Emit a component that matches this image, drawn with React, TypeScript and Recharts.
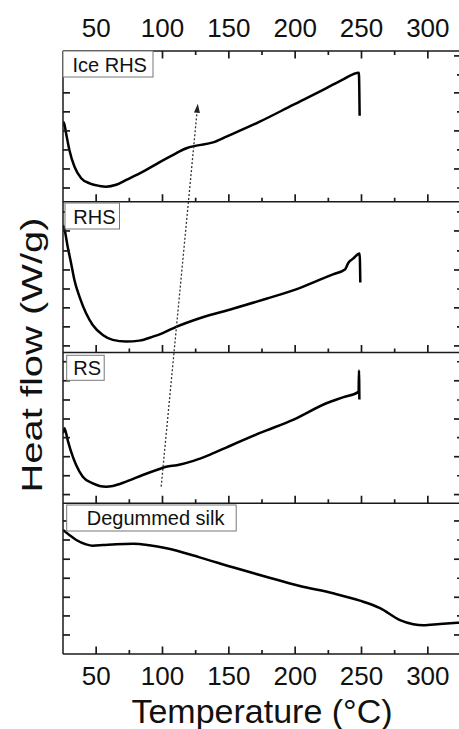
import React from 'react';
import { LineChart, Line, XAxis, YAxis, ReferenceLine } from 'recharts';

const FONT = '"Liberation Sans", Arial, Helvetica, sans-serif';

// x-axis (Temperature, °C)
const X_TICKS = [50, 75, 100, 125, 150, 175, 200, 225, 250, 275, 300];
const X_DOMAIN: [number, number] = [25, 325];

// panels, top to bottom; each panel spans 8 units of the stacked y scale
const PANEL_NAMES = ['Ice RHS', 'RHS', 'RS', 'Degummed silk'];
const PANEL_OFFSETS = [24, 16, 8, 0];
const PANEL_BOUNDARIES = [8, 16, 24];

// Ice RHS
const iceRhsT = [25, 25.6, 27.3, 29.8, 33.6, 38.7, 45, 52.5, 57.5, 65.1, 72.7, 85.3, 97.9, 110.5, 118, 125.6, 138.1, 148.2, 173.3, 198.4, 223.6, 236.2, 248, 248.6];
const iceRhsV = [4.0, 4.22, 3.64, 2.75, 1.87, 1.25, 0.98, 0.84, 0.8, 0.9, 1.16, 1.6, 2.1, 2.58, 2.84, 2.98, 3.15, 3.46, 4.25, 5.14, 6.03, 6.5, 6.85, 4.56];

// RHS
const rhsT = [25, 26.1, 28.5, 31.1, 33.6, 37.4, 42.4, 47.4, 55, 62.5, 72.6, 82.6, 92.7, 100.2, 110.3, 128, 153, 178.2, 203.3, 228.5, 237.5, 240, 244, 248.6, 249.1];
const rhsV = [6.75, 6.55, 5.62, 4.74, 3.85, 2.97, 2.08, 1.46, 0.93, 0.67, 0.58, 0.63, 0.84, 1.03, 1.36, 1.82, 2.32, 2.85, 3.42, 4.15, 4.4, 4.75, 5.0, 5.25, 3.72];

// RS
const rsT = [25, 26.1, 28.5, 31.1, 34.9, 39.9, 47.4, 57.5, 62.5, 72.6, 85.1, 97.7, 102.8, 110.8, 123.3, 135.9, 148.5, 173.6, 198.8, 224, 236.5, 247.8, 248.1, 248.4];
const rsV = [3.71, 3.98, 3.36, 2.74, 2.03, 1.41, 1.06, 0.88, 0.92, 1.15, 1.5, 1.82, 1.94, 2.02, 2.25, 2.58, 2.97, 3.73, 4.44, 5.32, 5.63, 5.91, 7.04, 5.5];

// Degummed silk
const silkT = [25, 30, 35, 42.4, 47.4, 55, 65, 78, 90, 103, 128, 153, 178, 203.5, 228.6, 248.8, 264, 279, 289, 296.6, 309, 325];
const silkV = [6.58, 6.3, 6.05, 5.82, 5.75, 5.78, 5.83, 5.85, 5.77, 5.61, 5.13, 4.6, 4.1, 3.61, 3.22, 2.83, 2.43, 1.8, 1.58, 1.52, 1.59, 1.67];

// y ticks (stacked units) per panel
const Y_TICKS_P1 = [24.73, 25.74, 26.75, 27.76, 28.77, 29.78, 30.73, 31.74];
const Y_TICKS_P2 = [16.35, 17.36, 18.37, 19.37, 20.38, 21.39, 22.45, 23.46];
const Y_TICKS_P3 = [8.46, 9.46, 10.47, 11.48, 12.47, 13.48, 14.5, 15.51];
const Y_TICKS_P4 = [1.01, 2.02, 3.01, 4.02, 5.03, 6.05, 7.06];
const Y_MAJOR_RIGHT = [25.74, 27.76, 29.78, 31.74, 16.35, 18.37, 20.38, 22.45, 8.46, 10.47, 12.47, 14.5, 1.01, 3.01, 5.03, 7.06];

// dotted arrow (from RS panel to Ice RHS panel), stacked units
const ARROW_FROM = { t: 99, v: 8.88 };
const ARROW_TO = { t: 126.6, v: 29.2 };

const SERIES_T = [iceRhsT, rhsT, rsT, silkT];
const SERIES_V = [iceRhsV, rhsV, rsV, silkV];
const seriesData = SERIES_T.map((ts, i) => ts.map((t, j) => ({ t, v: SERIES_V[i][j] + PANEL_OFFSETS[i] })));
const Y_TICKS = [...Y_TICKS_P4, ...Y_TICKS_P3, ...Y_TICKS_P2, ...Y_TICKS_P1];

// layout
const CHART_W = 471;
const CHART_H = 729;
const LEFT_W = 63;
const RIGHT_W = 10;
const TOP_H = 51;
const BOTTOM_H = 75;
const PLOT_W = CHART_W - LEFT_W - RIGHT_W;
const PANEL_H = (CHART_H - TOP_H - BOTTOM_H) / PANEL_NAMES.length;

const FRAME = '#1a1a1a';
const TICK_W = 1.7;

const makeXTick = (side: 'top' | 'bottom') => (props: any) => {
  const { x, y, payload } = props;
  const val = payload.value;
  const major = val % 50 === 0;
  const len = major ? 7.5 : 4;
  const dir = side === 'top' ? 1 : -1;
  return (
    <g>
      <line x1={x} y1={y} x2={x} y2={y + dir * len} stroke={FRAME} strokeWidth={TICK_W} />
      {side === 'bottom' &&
        PANEL_BOUNDARIES.map((_, k) => (
          <line
            key={k}
            x1={x}
            y1={y - (k + 1) * PANEL_H}
            x2={x}
            y2={y - (k + 1) * PANEL_H - len}
            stroke={FRAME}
            strokeWidth={TICK_W}
          />
        ))}
      {major && (
        <text
          x={x}
          y={side === 'top' ? y - 14.5 : y + 31}
          textAnchor="middle"
          fontSize={26}
          fontFamily={FONT}
          fill="#111"
        >
          {val}
        </text>
      )}
    </g>
  );
};

const LeftYTick = (props: any) => {
  const { x, y, payload } = props;
  const rlen = Y_MAJOR_RIGHT.includes(payload.value) ? 7 : 4;
  const xr = x + PLOT_W;
  return (
    <g>
      <line x1={x} y1={y} x2={x + 7} y2={y} stroke={FRAME} strokeWidth={TICK_W} />
      <line x1={xr - rlen} y1={y} x2={xr} y2={y} stroke={FRAME} strokeWidth={TICK_W} />
    </g>
  );
};

const ArrowShape = (p: any) => {
  const { x1, y1, x2, y2 } = p;
  const dx = x2 - x1;
  const dy = y2 - y1;
  const L = Math.sqrt(dx * dx + dy * dy) || 1;
  const ux = dx / L;
  const uy = dy / L;
  const hl = 9;
  const hw = 3;
  const bx = x2 - ux * hl;
  const by = y2 - uy * hl;
  const pts = `${x2},${y2} ${bx - uy * hw},${by + ux * hw} ${bx + uy * hw},${by - ux * hw}`;
  return (
    <g>
      <line x1={x1} y1={y1} x2={bx} y2={by} stroke="#333" strokeWidth={1.3} strokeDasharray="2 2" />
      <polygon points={pts} fill="#222" />
    </g>
  );
};

const LABEL_BOXES = [
  { x: 63, y: 51, w: 90, h: 26, tx: 72.5, ty: 71.5 },
  { x: 65, y: 203, w: 54.5, h: 26, tx: 73.3, ty: 223.5 },
  { x: 66.7, y: 355.3, w: 37.5, h: 25, tx: 73.3, ty: 374.5 },
  { x: 66.7, y: 505, w: 169.5, h: 26, tx: 86.7, ty: 525 },
];

export default function App() {
  return (
    <div style={{ position: 'absolute', left: 0, top: 0, width: 459, height: 729, overflow: 'hidden', background: '#fff' }}>
      <LineChart width={CHART_W} height={CHART_H} margin={{ top: 0, right: 0, bottom: 0, left: 0 }}>
        <XAxis
          xAxisId="top"
          orientation="top"
          dataKey="t"
          type="number"
          domain={X_DOMAIN}
          allowDataOverflow
          ticks={X_TICKS}
          interval={0}
          height={TOP_H}
          tickSize={0}
          tickMargin={0}
          tickLine={false}
          tick={makeXTick('top')}
          axisLine={{ stroke: FRAME, strokeWidth: 1.5 }}
        />
        <XAxis
          xAxisId="b"
          orientation="bottom"
          dataKey="t"
          type="number"
          domain={X_DOMAIN}
          allowDataOverflow
          ticks={X_TICKS}
          interval={0}
          height={BOTTOM_H}
          tickSize={0}
          tickMargin={0}
          tickLine={false}
          tick={makeXTick('bottom')}
          axisLine={{ stroke: FRAME, strokeWidth: 1.5 }}
        />
        <YAxis
          yAxisId="l"
          orientation="left"
          type="number"
          domain={[0, 32]}
          allowDataOverflow
          ticks={Y_TICKS}
          interval={0}
          width={LEFT_W}
          tickSize={0}
          tickMargin={0}
          tickLine={false}
          tick={LeftYTick}
          axisLine={{ stroke: FRAME, strokeWidth: 1.5 }}
        />
        <YAxis
          yAxisId="r"
          orientation="right"
          type="number"
          domain={[0, 32]}
          allowDataOverflow
          width={RIGHT_W}
          tick={false}
          tickLine={false}
          axisLine={{ stroke: FRAME, strokeWidth: 1.5 }}
        />
        {PANEL_BOUNDARIES.map((b) => (
          <ReferenceLine key={`bd-${b}`} xAxisId="b" yAxisId="l" y={b} stroke={FRAME} strokeWidth={1.5} />
        ))}
        {seriesData.map((d, i) => (
          <Line
            key={PANEL_NAMES[i]}
            name={PANEL_NAMES[i]}
            data={d}
            dataKey="v"
            xAxisId="b"
            yAxisId="l"
            type="monotone"
            stroke="#000"
            strokeWidth={2.5}
            dot={false}
            activeDot={false}
            isAnimationActive={false}
          />
        ))}
        <ReferenceLine
          xAxisId="b"
          yAxisId="l"
          ifOverflow="visible"
          segment={[
            { x: ARROW_FROM.t, y: ARROW_FROM.v },
            { x: ARROW_TO.t, y: ARROW_TO.v },
          ]}
          shape={ArrowShape}
        />
      </LineChart>
      <svg width={459} height={729} style={{ position: 'absolute', left: 0, top: 0, pointerEvents: 'none' }}>
        {LABEL_BOXES.map((b, i) => (
          <g key={PANEL_NAMES[i]}>
            <rect x={b.x} y={b.y} width={b.w} height={b.h} fill="#fff" stroke="#777" strokeWidth={1} />
            <text x={b.tx} y={b.ty} fontSize={20} fontFamily={FONT} fill="#111">
              {PANEL_NAMES[i]}
            </text>
          </g>
        ))}
        <text
          x={42}
          y={355}
          transform="rotate(-90 42 355)"
          textAnchor="middle"
          fontSize={30}
          fontFamily={FONT}
          fill="#111"
          textLength={275}
          lengthAdjust="spacingAndGlyphs"
        >
          Heat flow (W/g)
        </text>
        <text x={262} y={723} textAnchor="middle" fontSize={34} fontFamily={FONT} fill="#111">
          Temperature (°C)
        </text>
      </svg>
    </div>
  );
}
